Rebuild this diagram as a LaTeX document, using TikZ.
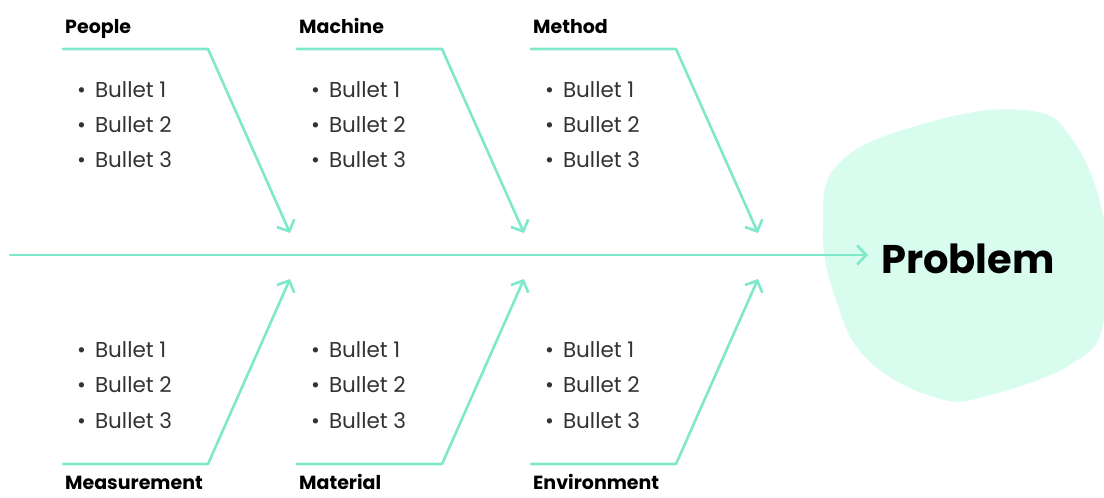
\documentclass[tikz,border=0pt]{standalone}
\usepackage{fontspec}
\setmainfont{Poppins}
\usetikzlibrary{arrows.meta}
\definecolor{bone}{RGB}{128, 232, 202}
\definecolor{blob}{RGB}{216, 252, 238}

\tikzset{
	fishline/.style={draw=bone, line width=2.6pt, line cap=round, line join=round,
		-{Straight Barb[length=9pt, width=19pt, line width=2.6pt]}},
	header/.style={anchor=base west, inner sep=0pt, font=\fontsize{19}{22}\selectfont\bfseries},
	item/.style={anchor=base west, inner sep=0pt, font=\fontsize{21.5}{24}\selectfont, text=black!80}
}

\begin{document}
\begin{tikzpicture}[x=1pt, y=-1pt]
			\useasboundingbox (0,0) rectangle (1104,498);

			% tete
			\fill[blob] plot[smooth cycle, tension=0.7] coordinates {
				(823,228) (840,162) (930,122) (1023,110) (1070,136)
				(1104,220) (1104,320) (1073,363) (990,395) (937,398) (868,360) (836,300)};
			\node[font=\fontsize{40}{46}\selectfont\bfseries, inner sep=0pt, anchor=base] (problem) at (968,273) {Problem};

			% arete centrale
			\coordinate (tail) at (10,255);
			\draw[fishline] (tail) -- (868,255);

			% aretes
			\foreach \x/\up/\down [count=\i] in {63/People/Measurement, 297/Machine/Material, 531/Method/Environment} {
				\node[header] (up\i) at (\x+2,33) {\up};
				\node[header] (down\i) at (\x+2,489) {\down};

				\coordinate (ua\i) at (\x,49);
				\coordinate (ub\i) at (\x+145,49);
				\coordinate (uc\i) at (\x+227,233);
				\coordinate (da\i) at (\x,464);
				\coordinate (db\i) at (\x+145,464);
				\coordinate (dc\i) at (\x+227,279);

				\draw[fishline] (ua\i) -- (ub\i) -- (uc\i);
				\draw[fishline] (da\i) -- (db\i) -- (dc\i);

				\foreach \k in {1,2,3} {
					\pgfmathtruncatemacro{\yu}{97 + 35*(\k-1)}
					\pgfmathtruncatemacro{\yd}{357 + 35.5*(\k-1)}
					\node[item] (ui\i\k) at (\x+14,\yu) {•\hspace{9pt}Bullet \k};
					\node[item] (di\i\k) at (\x+14,\yd) {•\hspace{9pt}Bullet \k};
				}
			}
		\end{tikzpicture}
\end{document}
